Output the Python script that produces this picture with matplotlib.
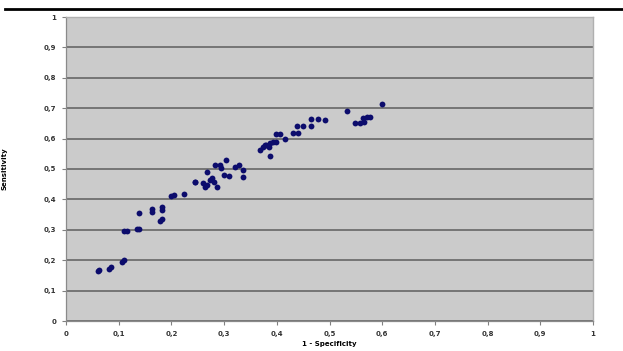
import matplotlib
matplotlib.use("Agg")
import matplotlib.pyplot as plt
from matplotlib.lines import Line2D

# 1 - specificity vs sensitivity for each cut-off
fpr = [0.060, 0.063, 0.082, 0.085, 0.106, 0.110, 0.110, 0.115, 0.135, 0.138,
       0.139, 0.163, 0.164, 0.178, 0.182, 0.183, 0.183, 0.200, 0.204, 0.224,
       0.244, 0.245, 0.260, 0.264, 0.267, 0.273, 0.280, 0.286, 0.283, 0.292,
       0.295, 0.304, 0.299, 0.310, 0.321, 0.329, 0.335, 0.336, 0.268, 0.277,
       0.368, 0.374, 0.378, 0.387, 0.393, 0.399, 0.388, 0.398, 0.407, 0.416,
       0.431, 0.440, 0.438, 0.450, 0.464, 0.464, 0.479, 0.491, 0.533, 0.548,
       0.558, 0.564, 0.571, 0.576, 0.566, 0.599, 0.380, 0.385]
tpr = [0.165, 0.168, 0.171, 0.177, 0.195, 0.200, 0.296, 0.296, 0.302, 0.302,
       0.355, 0.368, 0.360, 0.330, 0.337, 0.376, 0.365, 0.411, 0.414, 0.419,
       0.456, 0.457, 0.453, 0.442, 0.491, 0.464, 0.458, 0.442, 0.513, 0.513,
       0.502, 0.530, 0.480, 0.477, 0.508, 0.513, 0.497, 0.475, 0.447, 0.470,
       0.563, 0.573, 0.578, 0.584, 0.590, 0.590, 0.544, 0.615, 0.615, 0.598,
       0.620, 0.620, 0.641, 0.641, 0.641, 0.666, 0.664, 0.661, 0.692, 0.652,
       0.652, 0.667, 0.672, 0.672, 0.655, 0.713, 0.578, 0.572]

x_ticks = [0, 0.1, 0.2, 0.3, 0.4, 0.5, 0.6, 0.7, 0.8, 0.9, 1]
y_ticks = [0, 0.1, 0.2, 0.3, 0.4, 0.5, 0.6, 0.7, 0.8, 0.9, 1]
tick_labels = ["0", "0,1", "0,2", "0,3", "0,4", "0,5", "0,6", "0,7", "0,8", "0,9", "1"]

fig = plt.figure(figsize=(6.23, 3.51), dpi=100)
ax = fig.add_axes([66 / 623, 1 - 321 / 351, 527 / 623, 304 / 351])
ax.set_facecolor("#cbcbcb")

ax.set_xlim(0, 1)
ax.set_ylim(0, 1)
ax.set_xticks(x_ticks)
ax.set_yticks(y_ticks)
ax.set_xticklabels(tick_labels)
ax.set_yticklabels(tick_labels)
ax.tick_params(axis="both", direction="out", length=3, width=0.8, color="#808080",
               labelsize=5, pad=4, labelcolor="#333333")
for lab in ax.get_xticklabels() + ax.get_yticklabels():
    lab.set_fontweight("bold")

ax.yaxis.grid(True, color="#6e6e6e", linewidth=1.3)
ax.set_axisbelow(True)
for side in ["top", "right"]:
    ax.spines[side].set_color("#b0b0b0")
    ax.spines[side].set_linewidth(1.0)
for side in ["left", "bottom"]:
    ax.spines[side].set_color("#8a8a8a")
    ax.spines[side].set_linewidth(0.9)

ax.plot(fpr, tpr, linestyle="none", marker="o", markersize=4.2,
        color="#0c0c6c", markeredgewidth=0)

ax.set_xlabel("1 - Specificity", fontsize=5, fontweight="bold", labelpad=3)
ax.set_ylabel("Sensitivity", fontsize=5, fontweight="bold")
ax.yaxis.set_label_coords(-58 / 527, 0.5)

fig.add_artist(Line2D([5 / 623, 1.0], [1 - 9 / 351, 1 - 9 / 351],
                      color="black", linewidth=2.0))

fig.savefig("out.png", dpi=100)
